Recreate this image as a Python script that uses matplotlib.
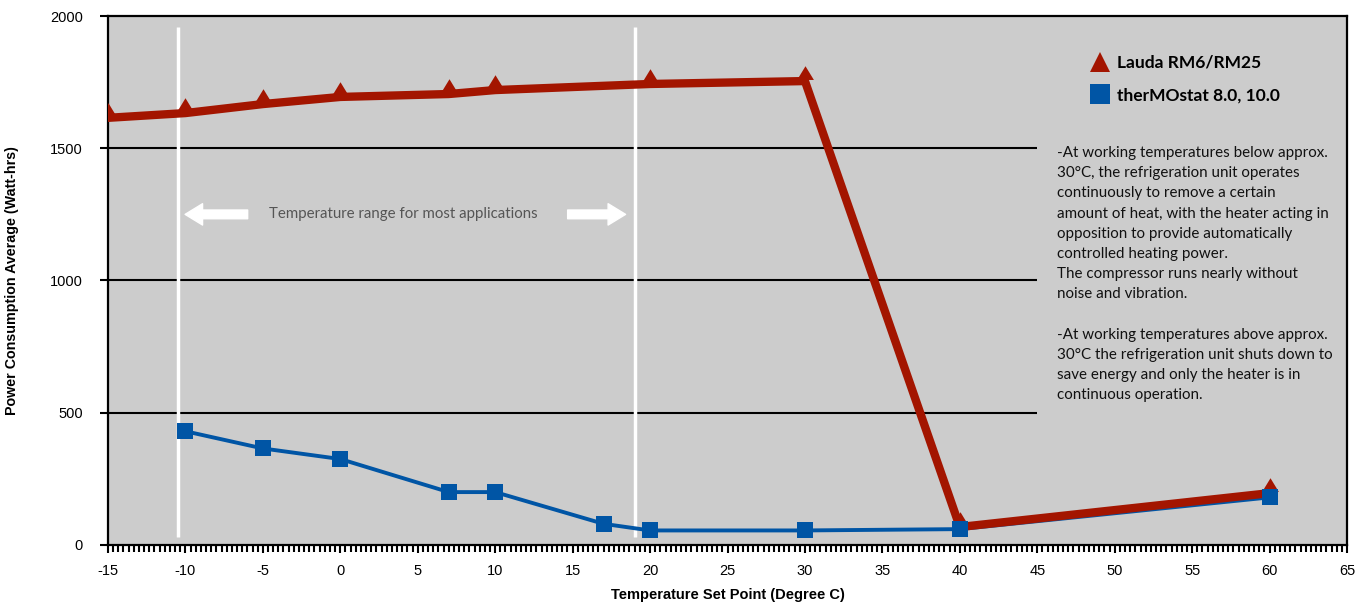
import matplotlib
matplotlib.use("Agg")
import matplotlib.pyplot as plt
from matplotlib.ticker import MultipleLocator
from matplotlib.lines import Line2D

# data
lauda_temp = [-15, -10, -5, 0, 7, 10, 20, 30, 40, 60]
lauda_power = [1615, 1633, 1667, 1694, 1705, 1720, 1743, 1754, 68, 196]
thermo_temp = [-10, -5, 0, 7, 10, 17, 20, 30, 40, 60]
thermo_power = [430, 365, 325, 200, 200, 80, 55, 55, 60, 180]
series_names = ["Lauda RM6/RM25", "therMOstat 8.0, 10.0"]
range_bounds = [-10.5, 19]
x_ticks = list(range(-15, 70, 5))
y_ticks = [0, 500, 1000, 1500, 2000]
grid_levels = [500, 1000, 1500]

RED = "#A31500"
BLUE = "#0055A5"
BG = "#CCCCCC"

note = ("-At working temperatures below approx.\n"
        "30°C, the refrigeration unit operates\n"
        "continuously to remove a certain\n"
        "amount of heat, with the heater acting in\n"
        "opposition to provide automatically\n"
        "controlled heating power.\n"
        "The compressor runs nearly without\n"
        "noise and vibration.\n"
        "\n"
        "-At working temperatures above approx.\n"
        "30°C the refrigeration unit shuts down to\n"
        "save energy and only the heater is in\n"
        "continuous operation.")

# triangle whose base sits on the data point
tri = [(0, 1.0), (-0.55, 0.1), (0.55, 0.1), (0, 1.0)]


def main():
    plt.rcParams["axes.unicode_minus"] = False

    fig = plt.figure(figsize=(13.63, 6.04), dpi=100)
    ax = fig.add_axes([0.0792, 0.0977, 0.9091, 0.8758])
    ax.set_facecolor(BG)

    ax.set_xlim(-15, 65)
    ax.set_ylim(0, 2000)

    ax.hlines(grid_levels, -15, 45, colors="black", linewidth=1.5, zorder=1)
    ax.vlines(range_bounds, 30, 1960, colors="white", linewidth=2.5, zorder=1)

    # blue line below the red one, blue squares above
    ax.plot(thermo_temp, thermo_power, color=BLUE, linewidth=2.8, zorder=2,
            solid_joinstyle="round")
    ax.plot(lauda_temp, lauda_power, color=RED, linewidth=6, marker=tri,
            markersize=22, markeredgewidth=0, zorder=3,
            solid_joinstyle="round", solid_capstyle="round")
    ax.plot(thermo_temp, thermo_power, linestyle="none", marker="s",
            markersize=11, color=BLUE, markeredgewidth=0, zorder=4)

    # temperature range annotation
    y_arrow = 1250
    arrow_style = "simple,head_length=0.9,head_width=1.1,tail_width=0.45"
    ax.annotate("", xy=(range_bounds[0] + 0.3, y_arrow), xytext=(-5.8, y_arrow),
                arrowprops=dict(arrowstyle=arrow_style, fc="white", ec="white",
                                mutation_scale=14))
    ax.annotate("", xy=(range_bounds[1] - 0.4, y_arrow), xytext=(14.5, y_arrow),
                arrowprops=dict(arrowstyle=arrow_style, fc="white", ec="white",
                                mutation_scale=14))
    ax.text(4.1, y_arrow, "Temperature range for most applications",
            ha="center", va="center", color="#555555", fontsize=10.8,
            family="Lato")

    ax.text(46.3, 1508, note, ha="left", va="top", fontsize=10.9,
            family="Lato", linespacing=1.56, color="#111111")

    handles = [
        Line2D([], [], linestyle="none", marker="^", color=RED, markersize=15,
               markeredgewidth=0),
        Line2D([], [], linestyle="none", marker="s", color=BLUE, markersize=14,
               markeredgewidth=0),
    ]
    ax.legend(handles, series_names, loc="upper left",
              bbox_to_anchor=(0.781, 0.956), frameon=False,
              prop=dict(family="Lato", weight="bold", size=12.5),
              handlelength=1.0, handletextpad=0.5, labelspacing=0.95)

    for s in ax.spines.values():
        s.set_linewidth(1.6)
        s.set_color("black")

    ax.set_xticks(x_ticks)
    ax.set_yticks(y_ticks)
    ax.xaxis.set_minor_locator(MultipleLocator(1 / 3))
    ax.tick_params(axis="x", which="major", direction="out", length=6,
                   width=1.5, labelsize=10.5, pad=8)
    ax.tick_params(axis="x", which="minor", direction="out", length=5,
                   width=1.5)
    ax.tick_params(axis="y", direction="out", length=6, width=1.5,
                   labelsize=10.5, pad=12)
    for lbl in ax.get_xticklabels() + ax.get_yticklabels():
        lbl.set_family("Liberation Sans")

    ax.set_xlabel("Temperature Set Point (Degree C)", family="Liberation Sans",
                  fontweight="bold", fontsize=10.5, labelpad=7)
    ax.set_ylabel("Power Consumption Average (Watt-hrs)",
                  family="Liberation Sans", fontweight="bold", fontsize=10.3)
    ax.yaxis.set_label_coords(-0.0715, 0.5)

    fig.savefig("out.png", dpi=100)


if __name__ == "__main__":
    main()
